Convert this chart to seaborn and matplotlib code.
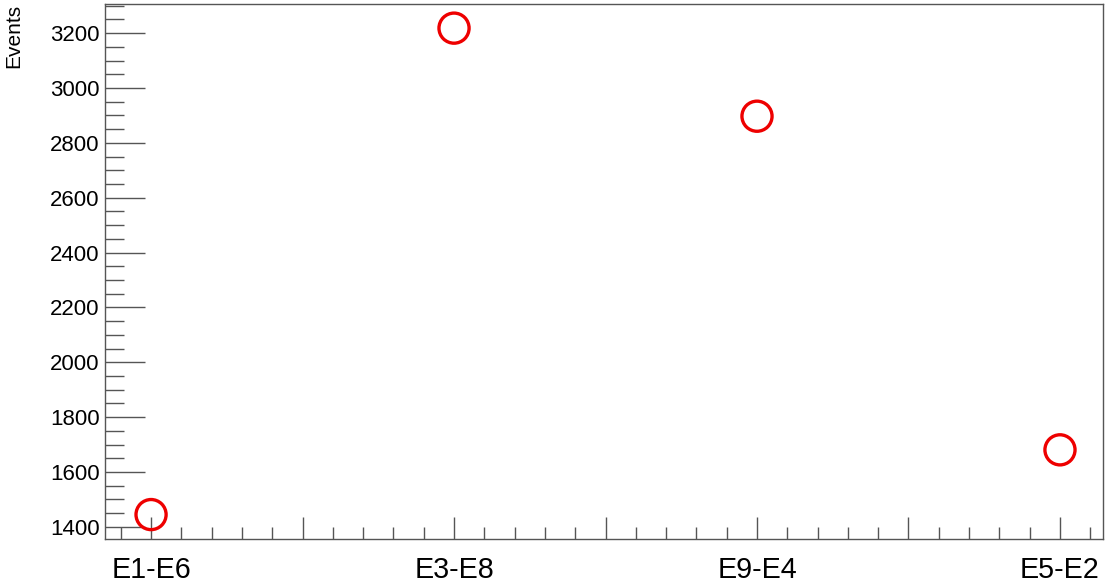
import matplotlib
matplotlib.use("Agg")
import matplotlib.pyplot as plt
from matplotlib.ticker import MultipleLocator
import seaborn as sns
import pandas as pd

categories = ["E1-E6", "E3-E8", "E9-E4", "E5-E2"]
events = [1445, 3218, 2897, 1681]

sns.set_style("ticks")
plt.rcParams['font.family'] = ['Liberation Sans', 'DejaVu Sans']
plt.rcParams['text.color'] = 'black'
plt.rcParams['xtick.labelcolor'] = 'black'
plt.rcParams['ytick.labelcolor'] = 'black'
plt.rcParams['axes.labelcolor'] = 'black'

df = pd.DataFrame({"pos": list(range(len(categories))), "Events": events})

fig = plt.figure(figsize=(11.07, 5.84), dpi=100)
ax = fig.add_axes([105/1107, 45/584, (1103-105)/1107, (539-4)/584])

sns.scatterplot(data=df, x="pos", y="Events", ax=ax, marker="o", s=470,
                facecolors="none", edgecolor="#ee0000", linewidth=2.4, legend=False)

ax.set_xlim(-0.152, 3.142)
ax.set_ylim(1356, 3306)

edge = "#555555"
for sp in ax.spines.values():
    sp.set_color(edge)
    sp.set_linewidth(1.0)
    sp.set_visible(True)

ax.xaxis.set_major_locator(MultipleLocator(0.5))
ax.xaxis.set_minor_locator(MultipleLocator(0.1))
def fmt(v, p):
    i = int(round(v))
    if abs(v - i) < 1e-6 and 0 <= i < len(categories):
        return categories[i]
    return ""
ax.xaxis.set_major_formatter(plt.FuncFormatter(fmt))

ax.yaxis.set_major_locator(MultipleLocator(200))
ax.yaxis.set_minor_locator(MultipleLocator(50))

ax.tick_params(axis="x", which="major", direction="in", length=16, width=1, color=edge,
               labelsize=20.7, pad=12, top=False, labelcolor="black")
ax.tick_params(axis="x", which="minor", direction="in", length=9, width=1, color=edge, top=False)
ax.tick_params(axis="y", which="major", direction="in", length=29, width=1, color=edge,
               labelsize=16, pad=4, right=False, labelcolor="black")
ax.tick_params(axis="y", which="minor", direction="in", length=14, width=1, color=edge, right=False)

ax.set_xlabel("")
ax.set_ylabel("")
fig.text(14/1107, 1 - 4/584, "Events", rotation=90, fontsize=15, color="black",
         ha="center", va="top")

fig.savefig("out.png", dpi=100)
